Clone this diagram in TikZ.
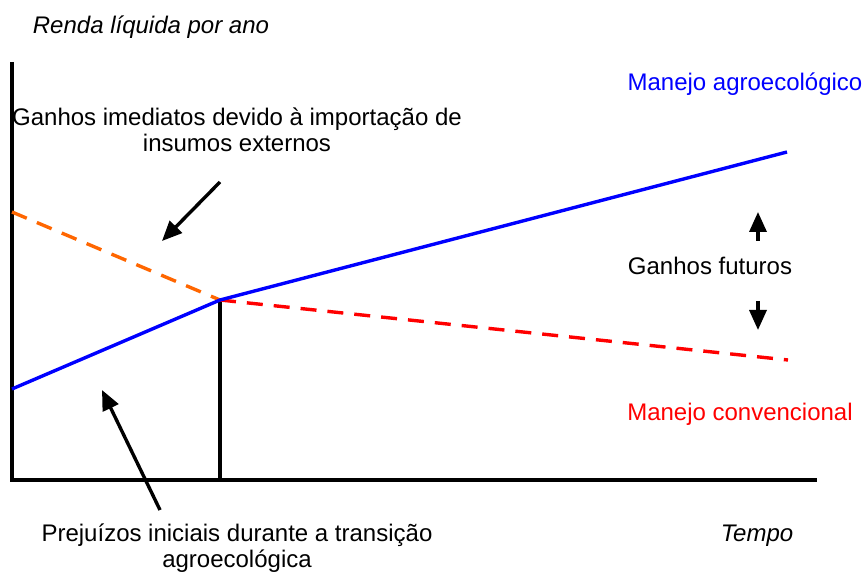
\documentclass[tikz,border=0pt]{standalone}
\usepackage{fontspec}
\setmainfont{Liberation Sans}
\usetikzlibrary{arrows.meta}
\definecolor{orangeL}{RGB}{255,102,0}
\begin{document}
\begin{tikzpicture}[x=0.5pt,y=-0.5pt,
  txt/.style={inner sep=0pt,font=\fontsize{12}{13}\selectfont,align=center},
  axisline/.style={line width=1.7pt,black},
  pointer/.style={line width=1.7pt,-{Triangle[length=10pt,width=8.5pt]}},
  blueline/.style={line width=1.7pt,blue},
  dashline/.style={line width=1.7pt,dash pattern=on 8pt off 5.5pt}]
\useasboundingbox (0,0) rectangle (864,572);
% axes
\coordinate (O) at (12,480);
\coordinate (Ytop) at (12,62);
\coordinate (Xend) at (817,480);
\draw[axisline] (Ytop) -- (O) -- (Xend);
% key points
\coordinate (Bstart) at (12,389);
\coordinate (M) at (220,300);
\coordinate (Bend) at (787,152);
\coordinate (Ostart) at (12,212);
\coordinate (Rend) at (788,360);
\coordinate (Mfoot) at (220,480);
\draw[axisline] (M) -- (Mfoot);
\draw[dashline,orangeL] (Ostart) -- (M);
\draw[dashline,red] (M) -- (Rend);
\draw[blueline] (Bstart) -- (M) -- (Bend);
% texts
\node[txt,font=\fontsize{12}{13}\selectfont\itshape] (ylab) at (151,27) {Renda líquida por ano};
\node[txt,blue] (agro) at (745,84) {Manejo agroecológico};
\node[txt] (ganhosim) at (237,130) {Ganhos imediatos devido à importação de\\insumos externos};
\node[txt] (futuros) at (710,266) {Ganhos futuros};
\node[txt,red] (conv) at (740,414) {Manejo convencional};
\node[txt] (prej) at (237,548) {Prejuízos iniciais durante a transição\\agroecológica};
\node[txt,font=\fontsize{12}{13}\selectfont\itshape] (tempo) at (757,536) {Tempo};
% arrows
\coordinate (a1s) at (220,182);
\coordinate (a1e) at (162,241);
\draw[pointer] (a1s) -- (a1e);
\coordinate (a2s) at (160,510);
\coordinate (a2e) at (102,390);
\draw[pointer] (a2s) -- (a2e);
\coordinate (upS) at (758,241);
\coordinate (upE) at (758,212);
\draw[pointer] (upS) -- (upE);
\coordinate (dnS) at (758,301);
\coordinate (dnE) at (758,330);
\draw[pointer] (dnS) -- (dnE);
\end{tikzpicture}
\end{document}
